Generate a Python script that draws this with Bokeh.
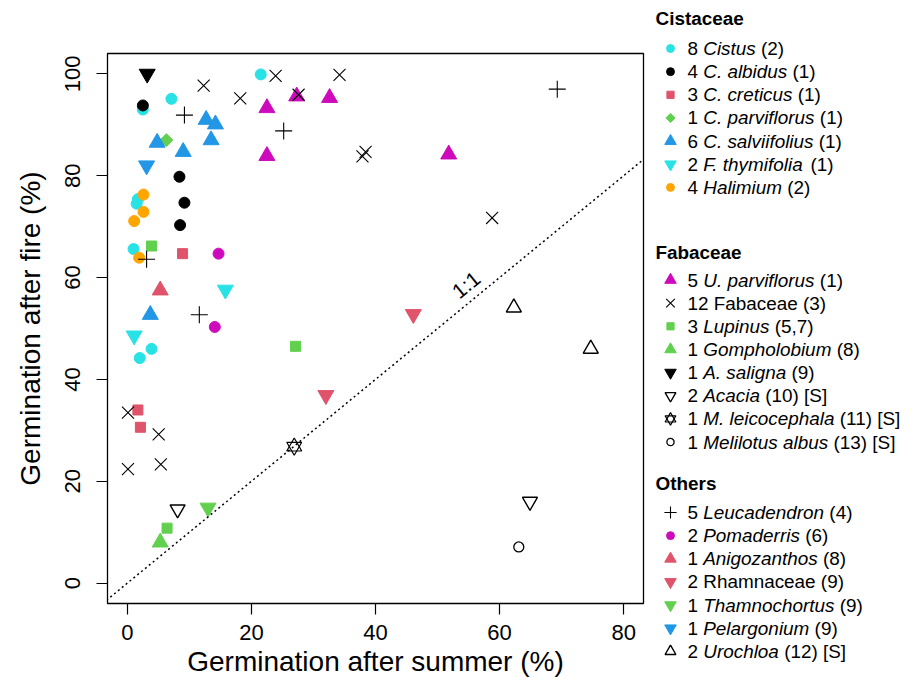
import math
from bokeh.plotting import figure
from bokeh.layouts import row
from bokeh.models import Range1d, FixedTicker, Slope, Label
from bokeh.core.properties import value
from bokeh.embed import file_html
from bokeh.resources import INLINE

# ---------------- data ----------------
x_ticks = [0, 20, 40, 60, 80]
y_ticks = [0, 20, 40, 60, 80, 100]

# Cistaceae
cistus_x = [2.5, 7.1, 21.5, 1.7, 1.5, 1.0, 3.9, 2.0]
cistus_y = [93.0, 95.1, 99.9, 75.4, 74.5, 65.6, 46.0, 44.2]
albidus_x = [2.5, 8.4, 9.2, 8.5]
albidus_y = [93.8, 79.8, 74.7, 70.3]
creticus_x = [8.9, 1.7, 2.1]
creticus_y = [64.7, 34.0, 30.6]
cparv_x = [6.3]
cparv_y = [87.0]
salvi_x = [12.7, 14.2, 13.5, 4.8, 9.0, 3.7]
salvi_y = [91.0, 90.1, 87.0, 86.5, 84.7, 52.7]
fthym_x = [15.8, 1.1]
fthym_y = [57.6, 48.6]
halim_x = [2.6, 2.6, 1.1, 1.9]
halim_y = [76.3, 72.9, 71.1, 63.9]

# Fabaceae
uparv_x = [27.3, 22.5, 22.5, 32.6, 51.8]
uparv_y = [95.6, 93.3, 83.9, 95.3, 84.2]
fab_x = [12.3, 18.2, 23.9, 27.6, 34.2, 38.4, 37.9, 58.8, 0.1, 5.05, 0.1, 5.4]
fab_y = [97.7, 95.2, 99.6, 95.9, 99.8, 84.7, 83.8, 71.7, 33.5, 29.2, 22.4, 23.3]
lupin_x = [3.9, 27.1, 6.4]
lupin_y = [66.2, 46.5, 10.8]
gomph_x = [5.3]
gomph_y = [8.0]
asal_x = [3.2]
asal_y = [100.0]
acacia_x = [8.1, 64.9]
acacia_y = [14.5, 16.0]
mleuc_x = [26.9]
mleuc_y = [26.8]
melil_x = [63.1]
melil_y = [7.1]

# Others
leuc_x = [9.2, 25.2, 3.1, 11.6, 69.3]
leuc_y = [91.9, 88.8, 63.6, 52.7, 97.0]
pomad_x = [14.7, 14.1]
pomad_y = [64.7, 50.3]
anig_x = [5.3]
anig_y = [57.5]
rhamn_x = [46.1, 32.0]
rhamn_y = [52.8, 36.9]
thamn_x = [13.0]
thamn_y = [14.8]
pelar_x = [3.1]
pelar_y = [82.0]
uroch_x = [62.3, 74.7]
uroch_y = [54.1, 46.0]

# ---------------- styles ----------------
CYAN = "#28E2E5"
BLACK = "#000000"
PINK = "#DF536B"
GREEN = "#61D04F"
BLUE = "#2297E6"
MAGENTA = "#CD0BBC"
ORANGE = "#FFA500"
FONT = "Liberation Sans"


def filled(marker, color, size):
    return dict(marker=marker, size=size, fill_color=color, line_color=color, line_width=1)


def hollow(marker, size, lw=1.4):
    return dict(marker=marker, size=size, fill_color=None, line_color=BLACK, line_width=lw)


def diamond(color, size):
    return dict(marker="square", size=size, angle=math.pi / 4, fill_color=color, line_color=color)


series = [
    (cistus_x, cistus_y, [filled("circle", CYAN, 11)]),
    (albidus_x, albidus_y, [filled("circle", BLACK, 11)]),
    (creticus_x, creticus_y, [filled("square", PINK, 10)]),
    (cparv_x, cparv_y, [diamond(GREEN, 9)]),
    (salvi_x, salvi_y, [filled("triangle", BLUE, 16)]),
    (fthym_x, fthym_y, [filled("inverted_triangle", CYAN, 16)]),
    (halim_x, halim_y, [filled("circle", ORANGE, 11)]),
    (uparv_x, uparv_y, [filled("triangle", MAGENTA, 16)]),
    (fab_x, fab_y, [hollow("x", 17, 1.1)]),
    (lupin_x, lupin_y, [filled("square", GREEN, 10)]),
    (gomph_x, gomph_y, [filled("triangle", GREEN, 16)]),
    (asal_x, asal_y, [filled("inverted_triangle", BLACK, 16)]),
    (acacia_x, acacia_y, [hollow("inverted_triangle", 15)]),
    (mleuc_x, mleuc_y, [hollow("triangle", 15, 1.2), hollow("inverted_triangle", 15, 1.2)]),
    (melil_x, melil_y, [hollow("circle", 10, 1.3)]),
    (leuc_x, leuc_y, [hollow("cross", 17, 1.1)]),
    (pomad_x, pomad_y, [filled("circle", MAGENTA, 11)]),
    (anig_x, anig_y, [filled("triangle", PINK, 16)]),
    (rhamn_x, rhamn_y, [filled("inverted_triangle", PINK, 16)]),
    (thamn_x, thamn_y, [filled("inverted_triangle", GREEN, 16)]),
    (pelar_x, pelar_y, [filled("inverted_triangle", BLUE, 16)]),
    (uroch_x, uroch_y, [hollow("triangle", 15)]),
]

# legend groups: (header, [(series index, [(text, italic?)...]), ...])
legend_groups = [
    ("Cistaceae", [
        (0, [("8 ", False), ("Cistus", True), (" (2)", False)]),
        (1, [("4 ", False), ("C. albidus", True), (" (1)", False)]),
        (2, [("3 ", False), ("C. creticus", True), (" (1)", False)]),
        (3, [("1 ", False), ("C. parviflorus", True), (" (1)", False)]),
        (4, [("6 ", False), ("C. salviifolius", True), (" (1)", False)]),
        (5, [("2 ", False), ("F. thymifolia", True), (" (1)", False)]),
        (6, [("4 ", False), ("Halimium", True), (" (2)", False)]),
    ]),
    ("Fabaceae", [
        (7, [("5 ", False), ("U. parviflorus", True), (" (1)", False)]),
        (8, [("12 Fabaceae (3)", False)]),
        (9, [("3 ", False), ("Lupinus", True), (" (5,7)", False)]),
        (10, [("1 ", False), ("Gompholobium", True), (" (8)", False)]),
        (11, [("1 ", False), ("A. saligna", True), (" (9)", False)]),
        (12, [("2 ", False), ("Acacia", True), (" (10) [S]", False)]),
        (13, [("1 ", False), ("M. leicocephala", True), (" (11) [S]", False)]),
        (14, [("1 ", False), ("Melilotus albus", True), (" (13) [S]", False)]),
    ]),
    ("Others", [
        (15, [("5 ", False), ("Leucadendron", True), (" (4)", False)]),
        (16, [("2 ", False), ("Pomaderris", True), (" (6)", False)]),
        (17, [("1 ", False), ("Anigozanthos", True), (" (8)", False)]),
        (18, [("2 Rhamnaceae (9)", False)]),
        (19, [("1 ", False), ("Thamnochortus", True), (" (9)", False)]),
        (20, [("1 ", False), ("Pelargonium", True), (" (9)", False)]),
        (21, [("2 ", False), ("Urochloa", True), (" (12) [S]", False)]),
    ]),
]

# ---------------- main plot ----------------
H = 679
W_MAIN = 647
W_LEG = 256

p = figure(width=W_MAIN, height=H, output_backend="svg", toolbar_location=None,
           x_range=Range1d(-3.2, 83.2), y_range=Range1d(-4, 104),
           min_border_left=107, min_border_right=4, min_border_top=53, min_border_bottom=76)
p.frame_align = False
p.grid.visible = False
p.outline_line_color = "black"
p.outline_line_width = 1.3
p.background_fill_color = "white"
p.border_fill_color = "white"

p.xaxis.ticker = FixedTicker(ticks=x_ticks)
p.yaxis.ticker = FixedTicker(ticks=y_ticks)
for ax in (p.xaxis, p.yaxis):
    ax.axis_line_color = None
    ax.major_tick_out = 11
    ax.major_tick_in = 0
    ax.minor_tick_out = 0
    ax.minor_tick_in = 0
    ax.major_tick_line_color = "black"
    ax.major_tick_line_width = 1.2
    ax.major_label_text_font = FONT
    ax.major_label_text_font_size = "22px"
    ax.major_label_text_color = "black"
    ax.axis_label_text_font = FONT
    ax.axis_label_text_font_size = "28px"
    ax.axis_label_text_font_style = "normal"
    ax.axis_label_text_color = "black"
p.xaxis.axis_label = "Germination after summer (%)"
p.yaxis.axis_label = "Germination after fire (%)"
p.xaxis.major_label_standoff = 10
p.xaxis.axis_label_standoff = 3
p.yaxis.major_label_orientation = "vertical"
p.yaxis.major_label_standoff = 16
p.yaxis.axis_label_standoff = 17

p.add_layout(Slope(gradient=1, y_intercept=0, line_color="black", line_width=1.5, line_dash="2 3"))
p.add_layout(Label(x=54.6, y=58.6, text="1:1", angle=math.atan(5.09 / 6.204),
                   text_align="center", text_baseline="middle",
                   text_font=FONT, text_font_size="21px", text_color="black"))

for xs, ys, styles in series:
    for st in styles:
        p.scatter(x=xs, y=ys, **st)

# ---------------- legend panel ----------------
W_ARIAL = {' ': 278, '(': 333, ')': 333, ',': 278, '.': 278, ':': 278, '[': 278, ']': 278,
           'A': 667, 'B': 667, 'C': 722, 'D': 722, 'E': 667, 'F': 611, 'G': 778, 'H': 722,
           'I': 278, 'J': 500, 'K': 667, 'L': 556, 'M': 833, 'N': 722, 'O': 778, 'P': 667,
           'Q': 778, 'R': 722, 'S': 667, 'T': 611, 'U': 722, 'V': 667, 'W': 944, 'X': 667,
           'Y': 667, 'Z': 611, 'a': 556, 'b': 556, 'c': 500, 'd': 556, 'e': 556, 'f': 278,
           'g': 556, 'h': 556, 'i': 222, 'j': 222, 'k': 500, 'l': 222, 'm': 833, 'n': 556,
           'o': 556, 'p': 556, 'q': 556, 'r': 333, 's': 500, 't': 278, 'u': 556, 'v': 500,
           'w': 722, 'x': 500, 'y': 500, 'z': 500}


def text_width(s, fs):
    return sum(W_ARIAL.get(c, 556) for c in s) * fs / 1000.0


lg = figure(width=W_LEG, height=H, output_backend="svg", toolbar_location=None,
            x_range=Range1d(0, W_LEG), y_range=Range1d(H, 0),
            x_axis_type=None, y_axis_type=None, min_border=0)
lg.frame_align = False
lg.grid.visible = False
lg.outline_line_color = None
lg.background_fill_color = "white"
lg.border_fill_color = "white"

LFS = 18.9
header_y = [18, 251.5, 483]
first_item_y = [48, 279.5, 512]
STEP = 23.15
MX = 23
TX = 40
LEG_SCALE = 0.72

for gi, (header, items) in enumerate(legend_groups):
    lg.text(x=[8], y=[header_y[gi]], text=[header], text_font=value(FONT),
            text_font_size=f"{LFS}px", text_font_style="bold", text_baseline="middle",
            text_align="left", text_color="black")
    for k, (si, segs) in enumerate(items):
        yy = first_item_y[gi] + k * STEP
        for st in series[si][2]:
            st2 = dict(st)
            st2["size"] = st["size"] * LEG_SCALE
            lg.scatter(x=[MX], y=[yy], **st2)
        xx = TX
        for txt, it in segs:
            lead = len(txt) - len(txt.lstrip(" "))
            core = txt.strip(" ")
            xx += text_width(" " * lead, LFS)
            lg.text(x=[xx], y=[yy], text=[core], text_font=value(FONT),
                    text_font_size=f"{LFS}px", text_font_style="italic" if it else "normal",
                    text_baseline="middle", text_align="left", text_color="black")
            xx += text_width(txt.lstrip(" "), LFS)

layout = row(p, lg)
open("out.html", "w").write(file_html(layout, INLINE))
